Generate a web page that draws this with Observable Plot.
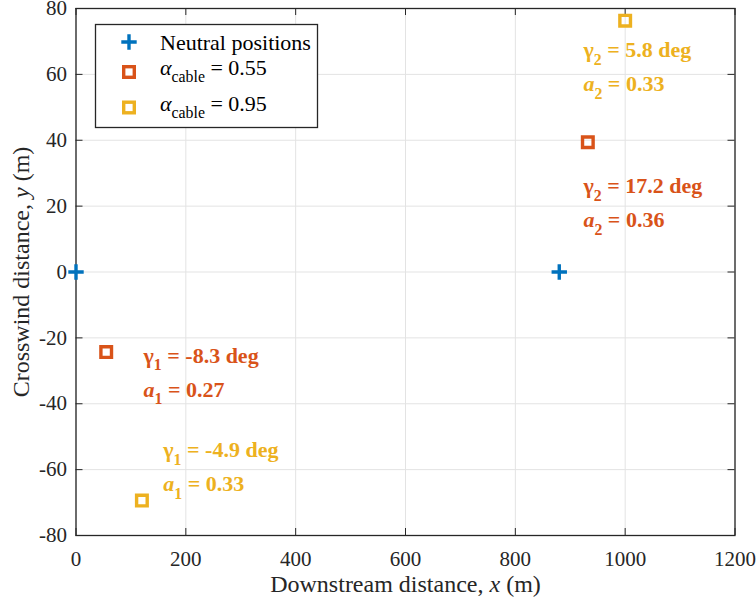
<!DOCTYPE html>
<html><head><meta charset="utf-8">
<script src="https://cdn.jsdelivr.net/npm/d3@7"></script>
<script src="https://cdn.jsdelivr.net/npm/@observablehq/plot@0.6"></script>
<style>
body{margin:0;background:#fff;}
#wrap{position:relative;width:756px;height:603px;}
#wrap svg.legend{position:absolute;left:0;top:0;pointer-events:none;}
</style></head><body><div id="wrap"></div>
<script>
// ---- data ----
const xTicks = [0, 200, 400, 600, 800, 1000, 1200];
const yTicks = [-80, -60, -40, -20, 0, 20, 40, 60, 80];
const neutralX = [0, 880];
const neutralY = [0, 0];
const cable055X = [55, 932];
const cable055Y = [-24.3, 39.4];
const cable095X = [120, 1000];
const cable095Y = [-69.4, 76.3];
const gamma055 = [-8.3, 17.2];
const a055 = [0.27, 0.36];
const gamma095 = [-4.9, 5.8];
const a095 = [0.33, 0.33];
const label055X = [123, 924];
const label055Y = [-30.5, 20.9];
const label095X = [159, 924];
const label095Y = [-59.3, 62.3];
const seriesNames = ["Neutral positions", "*α*_{cable} = 0.55", "*α*_{cable} = 0.95"];
const colors = ["#0072BD", "#D95319", "#EDB120"];
const xLabel = "Downstream distance, *x* (m)";
const yLabel = "Crosswind distance, *y* (m)";

// ---- layout ----
const W = 756, H = 603, mL = 75.5, mR = 21.5, mT = 8, mB = 68;
const plotW = W - mL - mR, plotH = H - mT - mB;
const axisColor = "#262626", gridColor = "#e3e3e3";
const FONT = "'Liberation Serif', 'Times New Roman', serif";

const pts = (xs, ys) => xs.map((x, i) => ({x, y: ys[i]}));
const annRows = (lx, ly, g, a) => lx.map((x, i) => ({
  x, y: ly[i],
  l1: `γ_{${i + 1}} = ${g[i]} deg`,
  l2: `*a*_{${i + 1}} = ${a[i].toFixed(2)}`
}));
const ann055 = annRows(label055X, label055Y, gamma055, a055);
const ann095 = annRows(label095X, label095Y, gamma095, a095);

const plusSymbol = {draw(ctx, size) { const r = Math.sqrt(size / Math.PI);
  ctx.moveTo(-r, 0); ctx.lineTo(r, 0); ctx.moveTo(0, -r); ctx.lineTo(0, r); }};
const squareSymbol = {draw(ctx, size) { const r = Math.sqrt(size / Math.PI);
  ctx.rect(-r, -r, 2 * r, 2 * r); }};

const annMarks = (rows, color) => [
  Plot.text(rows, {x: "x", y: "y", text: "l1", textAnchor: "start", dy: -17, fill: color, fontWeight: "bold", fontSize: 22}),
  Plot.text(rows, {x: "x", y: "y", text: "l2", textAnchor: "start", dy: 17, fill: color, fontWeight: "bold", fontSize: 22})
];

const chart = Plot.plot({
  width: W, height: H,
  marginLeft: mL, marginRight: mR, marginTop: mT, marginBottom: mB,
  style: {fontFamily: FONT, fontSize: "21px", color: axisColor, background: "white"},
  x: {domain: [0, 1200]},
  y: {domain: [-80, 80]},
  marks: [
    Plot.gridX(xTicks, {stroke: gridColor, strokeOpacity: 1}),
    Plot.gridY(yTicks, {stroke: gridColor, strokeOpacity: 1}),
    Plot.tickX(xTicks, {x: d => d, stroke: axisColor, insetTop: plotH - 7}),
    Plot.tickX(xTicks, {x: d => d, stroke: axisColor, insetBottom: plotH - 7}),
    Plot.tickY(yTicks, {y: d => d, stroke: axisColor, insetRight: plotW - 7}),
    Plot.tickY(yTicks, {y: d => d, stroke: axisColor, insetLeft: plotW - 7}),
    Plot.frame({stroke: axisColor, strokeWidth: 1.3}),
    Plot.axisX(xTicks, {tickSize: 0, tickPadding: 16, tickFormat: d => String(d), label: null}),
    Plot.axisY(yTicks, {tickSize: 0, tickPadding: 9, tickFormat: d => String(d), label: null}),
    Plot.text([xLabel], {text: d => d, frameAnchor: "bottom", textAnchor: "middle", dy: 56, fontSize: 24, fill: axisColor}),
    Plot.text([yLabel], {text: d => d, frameAnchor: "left", textAnchor: "middle", rotate: -90, dx: -54.5, fontSize: 24, fill: axisColor}),
    Plot.dot(pts(neutralX, neutralY), {x: "x", y: "y", symbol: plusSymbol, r: 7.7, stroke: colors[0], fill: "none", strokeWidth: 3.4}),
    Plot.dot(pts(cable055X, cable055Y), {x: "x", y: "y", symbol: squareSymbol, r: 5.3, stroke: colors[1], fill: "none", strokeWidth: 3.4}),
    Plot.dot(pts(cable095X, cable095Y), {x: "x", y: "y", symbol: squareSymbol, r: 5.3, stroke: colors[2], fill: "none", strokeWidth: 3.4}),
    ...annMarks(ann055, colors[1]),
    ...annMarks(ann095, colors[2])
  ]
});

const wrap = document.getElementById("wrap");
wrap.appendChild(chart);

// rich text: *italic*, _{subscript}
function richify(el) {
  const s = el.textContent;
  if (!/\*|_\{/.test(s)) return;
  const base = parseFloat(getComputedStyle(el).fontSize) || 21;
  const subSize = base * 0.72, shift = base * 0.36;
  el.textContent = "";
  const re = /\*([^*]+)\*|_\{([^}]+)\}|([^*_]+)/g;
  let m, shifted = false;
  while ((m = re.exec(s))) {
    const t = document.createElementNS("http://www.w3.org/2000/svg", "tspan");
    if (m[2] !== undefined) {
      t.textContent = m[2];
      t.setAttribute("font-size", subSize);
      t.setAttribute("dy", shift);
      shifted = true;
    } else {
      t.textContent = m[1] !== undefined ? m[1] : m[3];
      if (m[1] !== undefined) t.setAttribute("font-style", "italic");
      if (shifted) { t.setAttribute("dy", -shift); shifted = false; }
    }
    el.appendChild(t);
  }
}

// ---- legend (overlay) ----
const lg = d3.create("svg").attr("class", "legend").attr("width", W).attr("height", H)
  .style("font-family", FONT).style("font-size", "22px");
lg.append("rect").attr("x", 95.5).attr("y", 24.5).attr("width", 222).attr("height", 103)
  .attr("fill", "white").attr("stroke", axisColor).attr("stroke-width", 1.3);
const rowsY = [42, 72, 107.5];
const baseY = [49.5, 74.5, 110.5];
seriesNames.forEach((name, i) => {
  const cy = rowsY[i];
  if (i === 0) {
    lg.append("path").attr("d", `M${129 - 7.7},${cy}H${129 + 7.7}M129,${cy - 7.7}V${cy + 7.7}`)
      .attr("stroke", colors[i]).attr("stroke-width", 3.4).attr("fill", "none");
  } else {
    lg.append("rect").attr("x", 129 - 5.3).attr("y", cy - 5.3).attr("width", 10.6).attr("height", 10.6)
      .attr("stroke", colors[i]).attr("stroke-width", 3.4).attr("fill", "none");
  }
  lg.append("text").attr("x", 160).attr("y", baseY[i]).attr("fill", "#000").text(name);
});
wrap.appendChild(lg.node());

document.querySelectorAll("#wrap text").forEach(richify);
</script></body></html>
